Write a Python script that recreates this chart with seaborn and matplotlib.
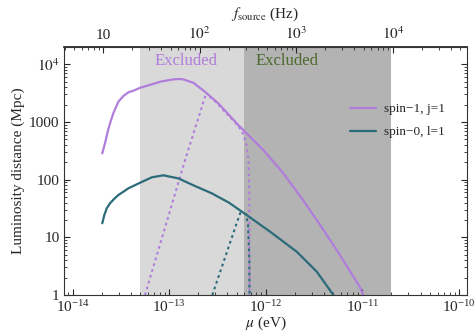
import numpy as np
import pandas as pd
import matplotlib
matplotlib.use("Agg")
import matplotlib.pyplot as plt
import seaborn as sns

# ---- data (log10 of mu [eV], log10 of luminosity distance [Mpc]) ----
spin1_solid_logmu = [-13.692, -13.664, -13.636, -13.612, -13.578, -13.526, -13.474, -13.422,
                     -13.353, -13.301, -13.180, -13.077, -12.957, -12.900, -12.854, -12.749,
                     -12.629, -12.491, -12.284, -12.111, -12.025, -11.818, -11.627, -11.472,
                     -11.265, -11.093, -11.030, -10.990, -10.975]
spin1_solid_logD = [2.456, 2.629, 2.830, 2.976, 3.149, 3.350, 3.449, 3.513,
                    3.553, 3.593, 3.652, 3.704, 3.738, 3.745, 3.738, 3.679,
                    3.523, 3.322, 2.946, 2.657, 2.513, 2.109, 1.676, 1.300,
                    0.780, 0.317, 0.150, 0.0, -0.2]
spin1_dot_logmu = [-13.250, -12.835, -12.628, -12.560, -12.491, -12.284, -12.230, -12.200,
                   -12.180, -12.173, -12.170, -12.168, -12.167]
spin1_dot_logD = [0.0, 2.340, 3.437, 3.420, 3.300, 2.930, 2.780, 2.600,
                  2.340, 1.993, 1.646, 0.0, -0.3]
spin0_solid_logmu = [-13.692, -13.671, -13.646, -13.612, -13.570, -13.526, -13.474, -13.422,
                     -13.301, -13.180, -13.060, -12.905, -12.732, -12.559, -12.380, -12.197,
                     -11.955, -11.679, -11.472, -11.300, -11.280]
spin0_solid_logD = [1.243, 1.386, 1.502, 1.589, 1.664, 1.733, 1.790, 1.849,
                    1.946, 2.040, 2.075, 2.022, 1.889, 1.763, 1.600, 1.386,
                    1.097, 0.750, 0.404, 0.0, -0.05]
spin0_dot_logmu = [-12.553, -12.266, -12.204, -12.183, -12.170, -12.168, -12.167]
spin0_dot_logD = [0.0, 1.416, 1.400, 1.210, 0.600, 0.0, -0.3]

excluded_light = (5.0e-14, 6.0e-13)
excluded_dark = (6.0e-13, 2.0e-11)
xticks_mu = [1e-14, 1e-13, 1e-12, 1e-11, 1e-10]
yticks_D = [1, 10, 100, 1000, 1e4]
yticklabels = ["1", "10", "100", "1000", r"$10^4$"]
fticks = [10, 100, 1000, 1e4]
fticklabels = ["10", r"$10^2$", r"$10^3$", r"$10^4$"]
series_names = ["spin\u22121, j=1", "spin\u22120, l=1"]

EV_TO_HZ = 2.418e14

purple = "#b17ddb"
teal = "#2b6b7a"
green = "#4d6a2c"

sns.set_theme(style="ticks")
plt.rcParams["font.family"] = ["Liberation Serif", "DejaVu Serif"]
plt.rcParams["mathtext.fontset"] = "stix"

def frame(logmu, logD, name, style):
    return pd.DataFrame({"mu": 10 ** np.array(logmu), "D": 10 ** np.array(logD),
                         "series": name, "style": style})

df = pd.concat([
    frame(spin1_solid_logmu, spin1_solid_logD, series_names[0], "solid"),
    frame(spin0_solid_logmu, spin0_solid_logD, series_names[1], "solid"),
])
df_dot = pd.concat([
    frame(spin1_dot_logmu, spin1_dot_logD, series_names[0], "dot"),
    frame(spin0_dot_logmu, spin0_dot_logD, series_names[1], "dot"),
])

fig = plt.figure(figsize=(4.76, 3.34), dpi=100)
ax = fig.add_axes([0.1355, 0.1168, 0.845, 0.7434])
ax.set_xscale("log")
ax.set_yscale("log")

ax.axvspan(*excluded_light, color="#d9d9d9", lw=0, zorder=0)
ax.axvspan(*excluded_dark, color="#b3b3b3", lw=0, zorder=0)

palette = {series_names[0]: purple, series_names[1]: teal}
sns.lineplot(data=df, x="mu", y="D", hue="series", palette=palette, lw=1.6,
             sort=False, estimator=None, ax=ax, zorder=3,
             solid_joinstyle="round", solid_capstyle="round")
for name in series_names:
    sub = df_dot[df_dot["series"] == name]
    sns.lineplot(data=sub, x="mu", y="D", color=palette[name], lw=1.5,
                 linestyle=(0, (1.3, 1.6)), sort=False, estimator=None, ax=ax,
                 legend=False, zorder=2)

ax.set_xlim(10 ** -14.083, 10 ** -9.92)
ax.set_ylim(1, 10 ** 4.305)
ax.set_xticks(xticks_mu)
ax.set_yticks(yticks_D)
ax.set_yticklabels(yticklabels)
ax.tick_params(which="both", direction="in", top=False, right=True, labelsize=11)
ax.tick_params(which="major", length=4, width=0.8)
ax.tick_params(which="minor", length=2, width=0.6)
ax.tick_params(axis="x", pad=3)
ax.set_xlabel(r"$\mu$ (eV)", fontsize=11, labelpad=0)
ax.set_ylabel("Luminosity distance (Mpc)", fontsize=11, labelpad=3)
for s in ax.spines.values():
    s.set_linewidth(0.8)
    s.set_color("#333333")

sec = ax.secondary_xaxis("top", functions=(lambda m: m * 2 * EV_TO_HZ,
                                           lambda f: f / (2 * EV_TO_HZ)))
sec.set_xticks(fticks)
sec.set_xticklabels(fticklabels)
sec.tick_params(which="both", direction="in", labelsize=11)
sec.tick_params(which="major", length=4, width=0.8)
sec.tick_params(which="minor", length=2, width=0.6)
sec.set_xlabel(r"$f_{\rm source}$ (Hz)", fontsize=11, labelpad=5)

ax.text(10 ** -12.83, 10 ** 4.05, "Excluded", color=purple, fontsize=12,
        ha="center", va="center")
ax.text(10 ** -11.78, 10 ** 4.05, "Excluded", color=green, fontsize=12,
        ha="center", va="center")

leg = ax.legend(loc="upper left", bbox_to_anchor=(0.68, 0.82), frameon=False,
                fontsize=9.5, handlelength=2.0, handletextpad=0.6, labelspacing=0.8)

fig.savefig("out.png", dpi=100)
